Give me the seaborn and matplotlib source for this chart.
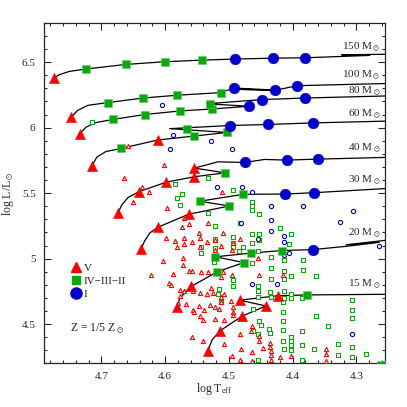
import matplotlib
matplotlib.use("Agg")
import matplotlib.pyplot as plt
import seaborn as sns
import pandas as pd
from matplotlib.lines import Line2D
from matplotlib.ticker import MultipleLocator, FuncFormatter

sns.set_style("ticks")
plt.rcParams['font.family'] = ['Liberation Serif', 'DejaVu Serif']
plt.rcParams['mathtext.fontset'] = 'stix'

RED = '#ff0000'
GREEN = '#0aa80a'
BLUE = '#0000cc'

# ---------------- evolutionary tracks (log Teff, log L) ----------------
trk150_T = [4.774, 4.765, 4.750, 4.7246, 4.662, 4.600, 4.542, 4.491, 4.431, 4.380, 4.279, 4.323, 4.25]
trk150_L = [6.381, 6.406, 6.429, 6.447, 6.482, 6.503, 6.515, 6.523, 6.530, 6.533, 6.551, 6.556, 6.560]
trk100_T = [4.747, 4.737, 4.721, 4.690, 4.634, 4.5815, 4.513, 4.492, 4.433, 4.486, 4.427, 4.393, 4.25]
trk100_L = [6.081, 6.132, 6.170, 6.191, 6.226, 6.247, 6.267, 6.302, 6.288, 6.292, 6.285, 6.320, 6.337]
trk80_T = [4.734, 4.724, 4.710, 4.682, 4.632, 4.577, 4.527, 4.4687, 4.535, 4.4476, 4.380, 4.25]
trk80_L = [5.952, 6.003, 6.037, 6.062, 6.100, 6.127, 6.142, 6.163, 6.182, 6.214, 6.226, 6.242]
trk60_T = [4.715, 4.707, 4.693, 4.669, 4.611, 4.555, 4.503, 4.593, 4.498, 4.438, 4.368, 4.25]
trk60_L = [5.706, 5.775, 5.817, 5.841, 5.906, 5.935, 5.963, 5.992, 6.016, 6.024, 6.036, 6.050]
trk40_T = [4.674, 4.668, 4.658, 4.641, 4.598, 4.554, 4.506, 4.554, 4.517, 4.475, 4.444, 4.409, 4.3605, 4.25]
trk40_L = [5.346, 5.410, 5.467, 5.511, 5.584, 5.625, 5.655, 5.691, 5.739, 5.734, 5.757, 5.752, 5.7595, 5.773]
trk30_T = [4.638, 4.632, 4.624, 4.611, 4.563, 4.499, 4.546, 4.477, 4.412, 4.367, 4.25]
trk30_L = [5.072, 5.135, 5.196, 5.240, 5.339, 5.402, 5.438, 5.491, 5.493, 5.503, 5.536]
trk20_T = [4.582, 4.577, 4.569, 4.559, 4.518, 4.4765, 4.521, 4.466, 4.417, 4.368, 4.316, 4.264, 4.316, 4.25]
trk20_L = [4.631, 4.694, 4.740, 4.788, 4.900, 4.970, 5.014, 5.042, 5.062, 5.069, 5.094, 5.124, 5.106, 5.142]
trk15_T = [4.533, 4.526, 4.5135, 4.480, 4.442, 4.483, 4.423, 4.377, 4.25]
trk15_L = [4.296, 4.382, 4.450, 4.559, 4.639, 4.683, 4.717, 4.723, 4.728]

track_masses = [150, 100, 80, 60, 40, 30, 20, 15]
label_L = [6.614, 6.399, 6.277, 6.102, 5.841, 5.600, 5.194, 4.806]

# ---------------- track markers ----------------
bigV_T = [4.774, 4.747, 4.734, 4.715, 4.611, 4.674, 4.641, 4.598, 4.554, 4.554,
          4.638, 4.611, 4.563, 4.582, 4.559, 4.533, 4.5135, 4.480, 4.442, 4.483, 4.423]
bigV_L = [6.381, 6.081, 5.952, 5.706, 5.906, 5.346, 5.511, 5.584, 5.625, 5.691,
          5.072, 5.240, 5.339, 4.631, 4.788, 4.296, 4.450, 4.559, 4.639, 4.683, 4.717]
bigG_T = [4.7246, 4.662, 4.600, 4.542, 4.690, 4.634, 4.5815, 4.513, 4.682, 4.632, 4.577, 4.527, 4.529,
          4.669, 4.555, 4.503, 4.565, 4.506, 4.499, 4.546, 4.477,
          4.518, 4.4765, 4.521, 4.466, 4.417, 4.377, 4.262]
bigG_L = [6.447, 6.482, 6.503, 6.515, 6.191, 6.226, 6.247, 6.267, 6.062, 6.100, 6.127, 6.142, 6.183,
          5.841, 5.935, 5.963, 5.988, 5.655, 5.402, 5.438, 5.491,
          4.900, 4.970, 5.014, 5.042, 5.062, 4.723, 4.190]
bigI_T = [4.491, 4.431, 4.380, 4.492, 4.427, 4.393, 4.4687, 4.4476, 4.380,
          4.498, 4.438, 4.368, 4.475, 4.409, 4.3605, 4.412, 4.367, 4.368]
bigI_L = [6.523, 6.530, 6.533, 6.302, 6.285, 6.320, 6.163, 6.214, 6.226,
          6.016, 6.024, 6.036, 5.734, 5.752, 5.7595, 5.493, 5.503, 5.069]

# ---------------- observed stars ----------------
obsV_T = [4.658, 4.602, 4.665, 4.636, 4.626, 4.511, 4.650, 4.597, 4.571, 4.533, 4.562, 4.573, 4.547,
          4.509, 4.599, 4.585, 4.571, 4.582, 4.571, 4.557, 4.546, 4.534, 4.546, 4.522, 4.512, 4.494,
          4.495, 4.482, 4.522, 4.603, 4.572, 4.572, 4.622, 4.588, 4.594, 4.591, 4.562, 4.557, 4.544,
          4.533, 4.509, 4.512, 4.495, 4.455, 4.453, 4.577, 4.571, 4.577, 4.556, 4.546, 4.534, 4.525,
          4.528, 4.507, 4.513, 4.512, 4.497, 4.567, 4.579, 4.556, 4.555, 4.547, 4.539, 4.530, 4.522,
          4.515, 4.494, 4.494, 4.494, 4.546, 4.541, 4.522, 4.507, 4.481, 4.558, 4.540, 4.508, 4.483,
          4.466, 4.463, 4.453, 4.452, 4.447, 4.435, 4.435, 4.434, 4.434, 4.434, 4.495, 4.481, 4.482,
          4.464, 4.464, 4.419, 4.402, 4.347, 4.347, 4.347, 4.415]
obsV_L = [5.861, 5.714, 5.615, 5.544, 5.512, 5.512, 5.435, 5.387, 5.308, 5.275, 5.265, 5.240, 5.194,
          5.194, 5.156, 5.135, 5.156, 5.088, 5.110, 5.128, 5.156, 5.126, 5.085, 5.143, 5.100, 5.123,
          5.067, 5.151, 5.067, 4.983, 5.004, 4.953, 4.877, 4.884, 4.813, 4.801, 4.907, 4.907, 4.896,
          4.896, 4.896, 4.859, 4.877, 5.008, 4.877, 4.757, 4.755, 4.712, 4.755, 4.737, 4.730, 4.737,
          4.775, 4.730, 4.707, 4.666, 4.679, 4.652, 4.661, 4.610, 4.595, 4.637, 4.610, 4.643, 4.631,
          4.618, 4.631, 4.595, 4.572, 4.565, 4.534, 4.542, 4.534, 4.547, 4.405, 4.369, 4.352, 4.425,
          4.450, 4.483, 4.407, 4.369, 4.319, 4.357, 4.329, 4.298, 4.268, 4.230, 4.258, 4.311, 4.230,
          4.287, 4.220, 4.247, 4.255, 4.311, 4.275, 4.217, 4.877]

obsG_T = [4.714, 4.584, 4.573, 4.582, 4.576, 4.533, 4.494, 4.464, 4.464, 4.464, 4.453, 4.483, 4.521,
          4.533, 4.494, 4.494, 4.494, 4.478, 4.464, 4.453, 4.464, 4.453, 4.419, 4.402, 4.405, 4.543,
          4.522, 4.522, 4.543, 4.484, 4.454, 4.434, 4.414, 4.384, 4.384, 4.434, 4.434, 4.414, 4.402,
          4.364, 4.414, 4.455, 4.455, 4.494, 4.494, 4.515, 4.517, 4.513, 4.523, 4.463, 4.455, 4.434,
          4.435, 4.414, 4.414, 4.402, 4.402, 4.385, 4.462, 4.452, 4.450, 4.462, 4.455, 4.437, 4.436,
          4.415, 4.415, 4.415, 4.415, 4.415, 4.414, 4.402, 4.402, 4.402, 4.402, 4.385, 4.385, 4.385,
          4.367, 4.364, 4.345, 4.328, 4.328, 4.307, 4.307, 4.307, 4.307, 4.307, 4.285, 4.454]
obsG_L = [6.043, 5.567, 5.493, 5.460, 5.412, 5.613, 5.524, 5.435, 5.402, 5.371, 5.341, 5.272, 5.252,
          5.346, 5.164, 5.118, 5.085, 5.085, 5.186, 5.189, 5.118, 5.143, 5.232, 5.186, 5.115, 5.088,
          5.153, 5.080, 5.046, 5.062, 5.062, 5.016, 4.991, 4.991, 4.915, 4.928, 4.844, 4.909, 4.867,
          4.864, 4.844, 4.788, 4.750, 4.839, 4.788, 4.770, 4.730, 4.666, 4.978, 4.966, 4.704, 4.707,
          4.745, 4.750, 4.696, 4.730, 4.699, 4.699, 4.616, 4.521, 4.496, 4.445, 4.428, 4.464, 4.433,
          4.666, 4.590, 4.521, 4.458, 4.374, 4.313, 4.403, 4.375, 4.344, 4.301, 4.344, 4.445, 4.230,
          4.313, 4.565, 4.483, 4.349, 4.268, 4.681, 4.610, 4.547, 4.326, 4.250, 4.273, 4.230]

obsI_T = [4.605, 4.588, 4.528, 4.593, 4.495, 4.518, 4.480, 4.463, 4.434, 4.384, 4.306, 4.325, 4.434,
          4.481, 4.434, 4.414, 4.454, 4.414, 4.405, 4.414, 4.265, 4.463, 4.424, 4.307]
obsI_L = [6.170, 5.942, 5.894, 5.833, 5.833, 5.543, 5.544, 5.512, 5.402, 5.402, 5.362, 5.282, 5.295,
          5.272, 5.212, 5.174, 5.151, 5.126, 5.040, 5.025, 5.094, 4.804, 4.804, 4.428]

# ---------------- figure ----------------
fig = plt.figure(figsize=(4.07, 4.07), dpi=100)
ax = fig.add_axes([0.108, 0.107, 0.838, 0.837])

tracks = [(trk150_T, trk150_L), (trk100_T, trk100_L), (trk80_T, trk80_L), (trk60_T, trk60_L),
          (trk40_T, trk40_L), (trk30_T, trk30_L), (trk20_T, trk20_L), (trk15_T, trk15_L)]
rows = []
for m, (tt, ll) in zip(track_masses, tracks):
    for i, (a, b) in enumerate(zip(tt, ll)):
        rows.append({'T': a, 'L': b, 'track': m, 'i': i})
df_tr = pd.DataFrame(rows)
sns.lineplot(data=df_tr, x='T', y='L', units='track', estimator=None, sort=False,
             color='black', lw=0.9, ax=ax, zorder=2, legend=False)

# observed stars (small open symbols)
sns.scatterplot(x=obsG_T, y=obsG_L, marker='s', s=7, color='white', edgecolor=GREEN,
                linewidth=0.8, ax=ax, zorder=3)
sns.scatterplot(x=obsV_T, y=obsV_L, marker='^', s=9, color='white', edgecolor=RED,
                linewidth=0.8, ax=ax, zorder=3)
sns.scatterplot(x=obsI_T, y=obsI_L, marker='o', s=9, color='white', edgecolor=BLUE,
                linewidth=0.8, ax=ax, zorder=3)

# track markers
sns.scatterplot(x=bigV_T, y=bigV_L, marker='^', s=55, color=RED, edgecolor=RED,
                linewidth=0.3, ax=ax, zorder=4)
sns.scatterplot(x=bigG_T, y=bigG_L, marker='s', s=30, color=GREEN, edgecolor='#60d060',
                linewidth=0.4, ax=ax, zorder=4)
sns.scatterplot(x=bigI_T, y=bigI_L, marker='o', s=60, color=BLUE, edgecolor=BLUE,
                linewidth=0.3, ax=ax, zorder=4)

for m, yl in zip(track_masses, label_L):
    ax.text(4.262, yl, f"{m} M$_\\odot$", ha='right', va='center', fontsize=8, zorder=5)

ax.set_xlim(4.79, 4.255)
ax.set_ylim(4.2, 6.8)
ax.xaxis.set_major_locator(MultipleLocator(0.1))
ax.xaxis.set_minor_locator(MultipleLocator(0.02))
ax.yaxis.set_major_locator(MultipleLocator(0.5))
ax.yaxis.set_minor_locator(MultipleLocator(0.1))
fmt = FuncFormatter(lambda v, p: f"{v:g}")
ax.xaxis.set_major_formatter(fmt)
ax.yaxis.set_major_formatter(fmt)
ax.tick_params(which='both', direction='in', top=True, right=True, labelsize=8, width=0.8)
ax.tick_params(which='major', length=5, pad=6)
ax.tick_params(which='minor', length=2.5)
for sp in ax.spines.values():
    sp.set_linewidth(0.9)

ax.set_xlabel(r"log T$_{\rm eff}$", fontsize=8.5, labelpad=0)
ax.set_ylabel(r"log L/L$_\odot$", fontsize=8.5, labelpad=4)

handles = [Line2D([], [], marker='^', color=RED, ls='', ms=7),
           Line2D([], [], marker='s', color=GREEN, ls='', ms=6),
           Line2D([], [], marker='o', color=BLUE, ls='', ms=8)]
ax.legend(handles, ['V', 'IV\u2212III\u2212II', 'I'], loc='upper left',
          bbox_to_anchor=(0.078, 0.295), frameon=False, handlelength=1.0,
          handletextpad=0.2, labelspacing=0.3, borderpad=0, borderaxespad=0, fontsize=8)

ax.text(0.076, 0.10, r"Z = 1/5 Z$_\odot$", transform=ax.transAxes, ha='left', va='center',
        fontsize=8.5)

fig.savefig("out.png", dpi=100)
